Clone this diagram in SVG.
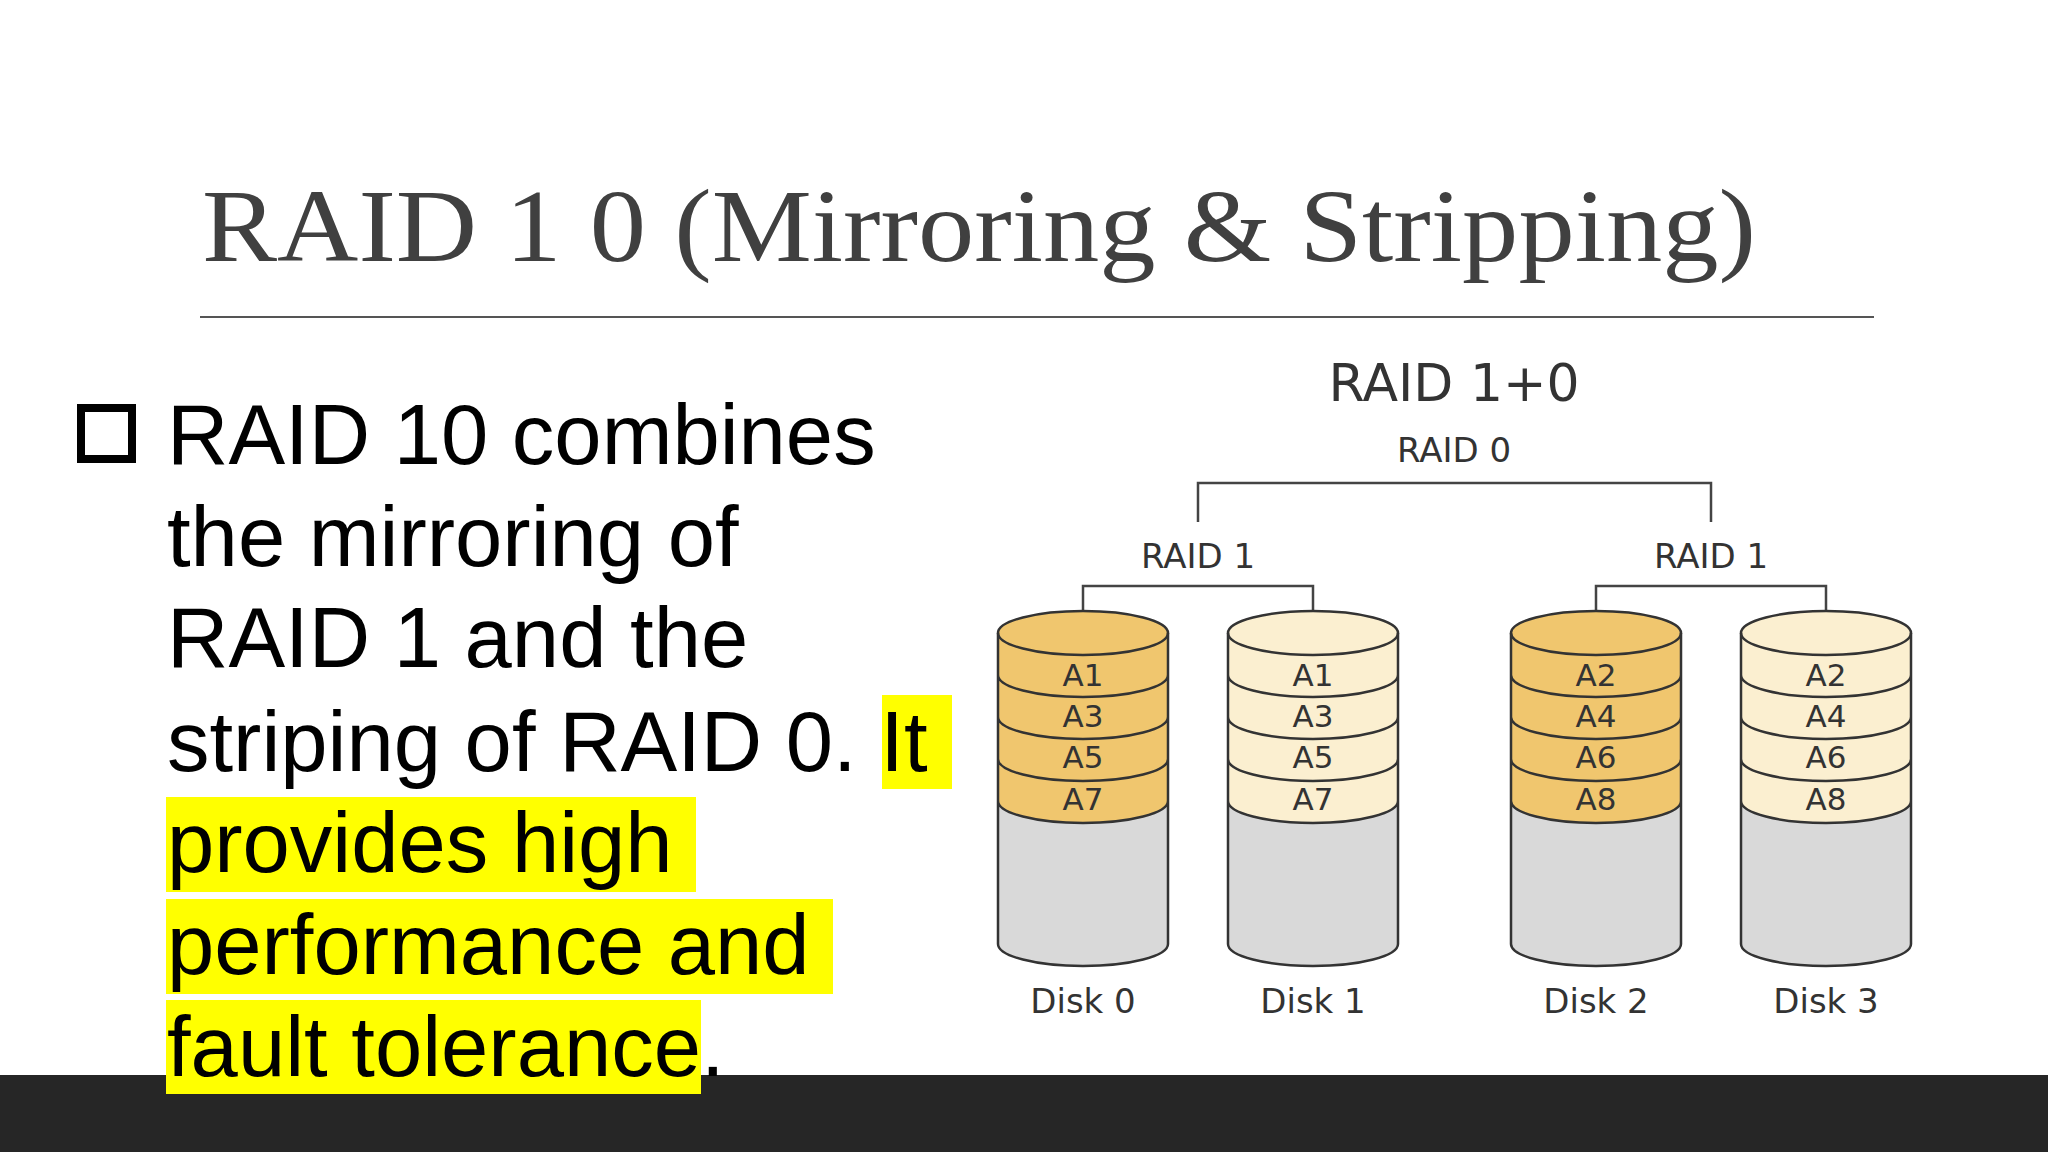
<svg xmlns="http://www.w3.org/2000/svg" xmlns:xlink="http://www.w3.org/1999/xlink" width="2048" height="1152" viewBox="0 0 2048 1152">
<style>
.body{font-family:"Liberation Sans",Arial,sans-serif;font-size:85px;fill:#000}
.dg{font-family:"DejaVu Sans",sans-serif;fill:#333;text-anchor:middle}
.lbl{font-size:31px}
.cl{stroke:#333;stroke-width:2.5;fill:none}
.hl{fill:#ffff00}
</style>
<defs>
<g id="cyl">
<path d="M-85,633 V944 A85,22 0 0 0 85,944 V633 Z" fill="#d9d9d9"/>
<path d="M-85,633 V801 A85,22 0 0 0 85,801 V633 Z" fill="inherit"/>
<ellipse cx="0" cy="633" rx="85" ry="22" fill="inherit" stroke="#333" stroke-width="2.5"/>
<path d="M-85,675 A85,22 0 0 0 85,675 M-85,717 A85,22 0 0 0 85,717 M-85,759 A85,22 0 0 0 85,759 M-85,801 A85,22 0 0 0 85,801 M-85,633 V944 A85,22 0 0 0 85,944 V633" class="cl"/>
</g>
</defs>
<rect width="2048" height="1152" fill="#fff"/>
<rect x="0" y="1075" width="2048" height="77" fill="#262626"/>
<g id="title">
<text x="202" y="261" font-family="Liberation Serif,serif" font-size="104" fill="#404040" textLength="1554" lengthAdjust="spacingAndGlyphs">RAID 1 0 (Mirroring &amp; Stripping)</text>
<line x1="200" y1="317" x2="1874" y2="317" stroke="#555" stroke-width="2"/>
</g>
<g id="bullet">
<rect x="81" y="408" width="51" height="51" fill="none" stroke="#000" stroke-width="8"/>
<rect x="882" y="695" width="70" height="94" class="hl"/>
<rect x="166" y="797" width="530" height="95" class="hl"/>
<rect x="166" y="899" width="667" height="95" class="hl"/>
<rect x="166" y="1000" width="535" height="94" class="hl"/>
<text class="body" x="167" y="464">RAID 10 combines</text>
<text class="body" x="167" y="566">the mirroring of</text>
<text class="body" x="167" y="667">RAID 1 and the</text>
<text class="body" x="167" y="771">striping of RAID 0. It</text>
<text class="body" x="167" y="872">provides high</text>
<text class="body" x="167" y="974">performance and</text>
<text class="body" x="167" y="1076">fault tolerance.</text>
</g>
<g id="labels">
<text class="dg" x="1454" y="401" font-size="52">RAID 1+0</text>
<text class="dg" x="1454" y="462" font-size="34">RAID 0</text>
<text class="dg" x="1198" y="568" font-size="34">RAID 1</text>
<text class="dg" x="1711" y="568" font-size="34">RAID 1</text>
</g>
<g id="connectors" stroke="#444" stroke-width="2.5" fill="none">
<path d="M1198,522 V483 H1711 V522"/>
<path d="M1083,640 V586 H1313 V640"/>
<path d="M1596,640 V586 H1826 V640"/>
</g>
<g id="disk0"><use xlink:href="#cyl" transform="translate(1083,0)" fill="#f0c66e"/>
<text class="dg lbl" x="1083" y="686">A1</text><text class="dg lbl" x="1083" y="727">A3</text><text class="dg lbl" x="1083" y="768">A5</text><text class="dg lbl" x="1083" y="810">A7</text><text class="dg" font-size="34" x="1083" y="1013">Disk 0</text></g>
<g id="disk1"><use xlink:href="#cyl" transform="translate(1313,0)" fill="#fbefd0"/>
<text class="dg lbl" x="1313" y="686">A1</text><text class="dg lbl" x="1313" y="727">A3</text><text class="dg lbl" x="1313" y="768">A5</text><text class="dg lbl" x="1313" y="810">A7</text><text class="dg" font-size="34" x="1313" y="1013">Disk 1</text></g>
<g id="disk2"><use xlink:href="#cyl" transform="translate(1596,0)" fill="#f0c66e"/>
<text class="dg lbl" x="1596" y="686">A2</text><text class="dg lbl" x="1596" y="727">A4</text><text class="dg lbl" x="1596" y="768">A6</text><text class="dg lbl" x="1596" y="810">A8</text><text class="dg" font-size="34" x="1596" y="1013">Disk 2</text></g>
<g id="disk3"><use xlink:href="#cyl" transform="translate(1826,0)" fill="#fbefd0"/>
<text class="dg lbl" x="1826" y="686">A2</text><text class="dg lbl" x="1826" y="727">A4</text><text class="dg lbl" x="1826" y="768">A6</text><text class="dg lbl" x="1826" y="810">A8</text><text class="dg" font-size="34" x="1826" y="1013">Disk 3</text></g>
</svg>
